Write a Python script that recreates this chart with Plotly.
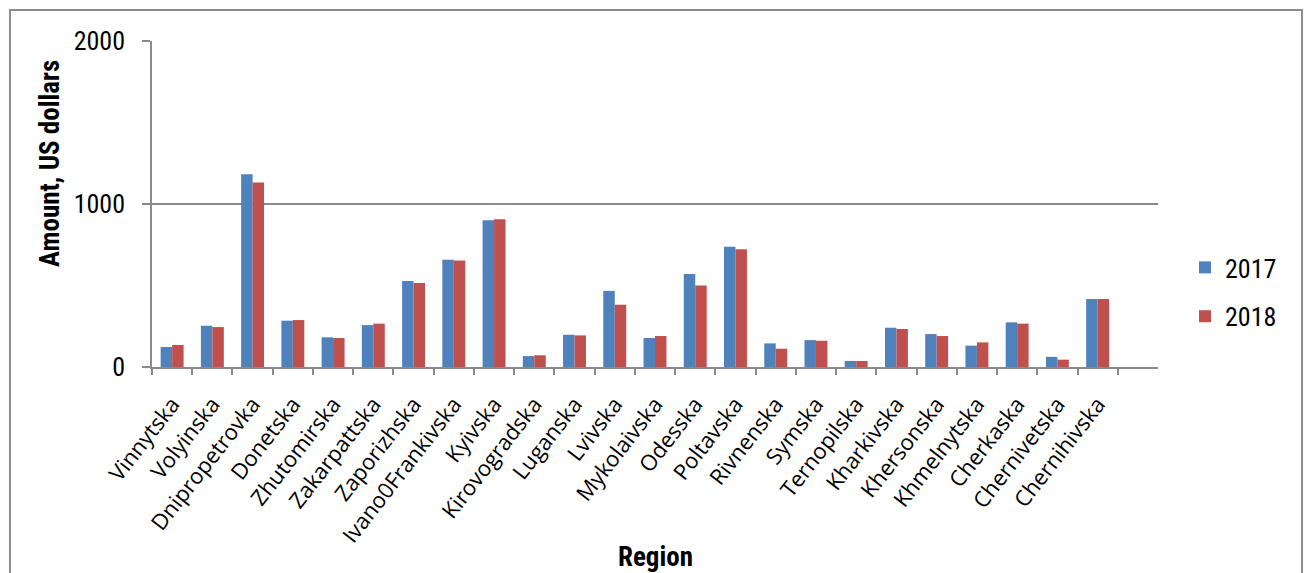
import plotly.graph_objects as go

regions = ["Vinnytska", "Volyinska", "Dnipropetrovka", "Donetska", "Zhutomirska",
           "Zakarpattska", "Zaporizhska", "Ivano0Frankivska", "Kyivska", "Kirovogradska",
           "Luganska", "Lvivska", "Mykolaivska", "Odesska", "Poltavska", "Rivnenska",
           "Symska", "Ternopilska", "Kharkivska", "Khersonska", "Khmelnytska",
           "Cherkaska", "Chernivetska", "Chernihivska"]
values_2017 = [123, 253, 1183, 284, 182, 257, 527, 658, 901, 67, 198, 467, 178, 570,
               737, 145, 165, 37, 241, 202, 131, 274, 62, 417]
values_2018 = [135, 245, 1132, 288, 178, 266, 515, 654, 907, 72, 194, 382, 190, 500,
               723, 112, 161, 37, 233, 190, 151, 266, 45, 417]
y_ticks = [0, 1000, 2000]
series_names = ["2017", "2018"]

W, H = 1308, 573
L, R, T, B = 152, 1158, 41, 367
pw, ph = R - L, B - T

def px(x):
    return (x - L) / pw

def py(y):
    return (B - y) / ph

narrow = "Liberation Sans Narrow, Roboto Condensed, Arial Narrow, sans-serif"
grid = "#8a8a8a"

fig = go.Figure()
fig.add_trace(go.Bar(x=regions, y=values_2017, name=series_names[0],
                     marker=dict(color="#4F81BD", line=dict(width=0)), legendgroup="a"))
fig.add_trace(go.Bar(x=regions, y=values_2018, name=series_names[1],
                     marker=dict(color="#C0504D", line=dict(width=0)), legendgroup="b"))

annotations = [
    dict(text="<b>Amount, US dollars</b>", x=px(50), y=py(164),
         xanchor="center", yanchor="middle",
         xref="paper", yref="paper", showarrow=False, textangle=-90,
         font=dict(family=narrow, size=27, color="black")),
    dict(text="<b>Region</b>", x=px(655), y=py(557),
         xanchor="center", yanchor="middle",
         xref="paper", yref="paper", showarrow=False,
         font=dict(family=narrow, size=27, color="black")),
]

fig.update_layout(
    width=W, height=H,
    margin=dict(l=L, r=W - R, t=T, b=H - B, pad=0),
    paper_bgcolor="white", plot_bgcolor="white",
    barmode="group", bargap=0.43, bargroupgap=0,
    showlegend=True,
    legend=dict(x=px(1185), y=py(244), xanchor="left", yanchor="top",
                font=dict(family=narrow, size=26, color="black"),
                tracegroupgap=12, itemwidth=30, bgcolor="rgba(0,0,0,0)"),
    annotations=annotations,
    shapes=[dict(type="rect", xref="paper", yref="paper",
                 x0=px(10), x1=px(1302), y0=py(620), y1=py(10),
                 line=dict(color="#8c8c8c", width=2), layer="below")],
    xaxis=dict(range=[-0.5, 24.5], tickson="boundaries", ticks="outside", ticklen=6,
               tickcolor=grid, tickwidth=1.5, showline=True, linecolor=grid, linewidth=1.5,
               tickangle=-52, ticklabelstandoff=14,
               tickfont=dict(family="Open Sans, sans-serif", size=22, color="black"),
               showgrid=False, fixedrange=True),
    yaxis=dict(range=[0, 2000], tickvals=y_ticks, ticks="outside", ticklen=8,
               tickcolor=grid, tickwidth=1.5, showline=True, linecolor=grid, linewidth=1.5,
               showgrid=True, gridcolor=grid, gridwidth=1.5, zeroline=False,
               tickfont=dict(family=narrow, size=26, color="black"), ticklabelstandoff=12),
)

fig.write_html("out.html")
